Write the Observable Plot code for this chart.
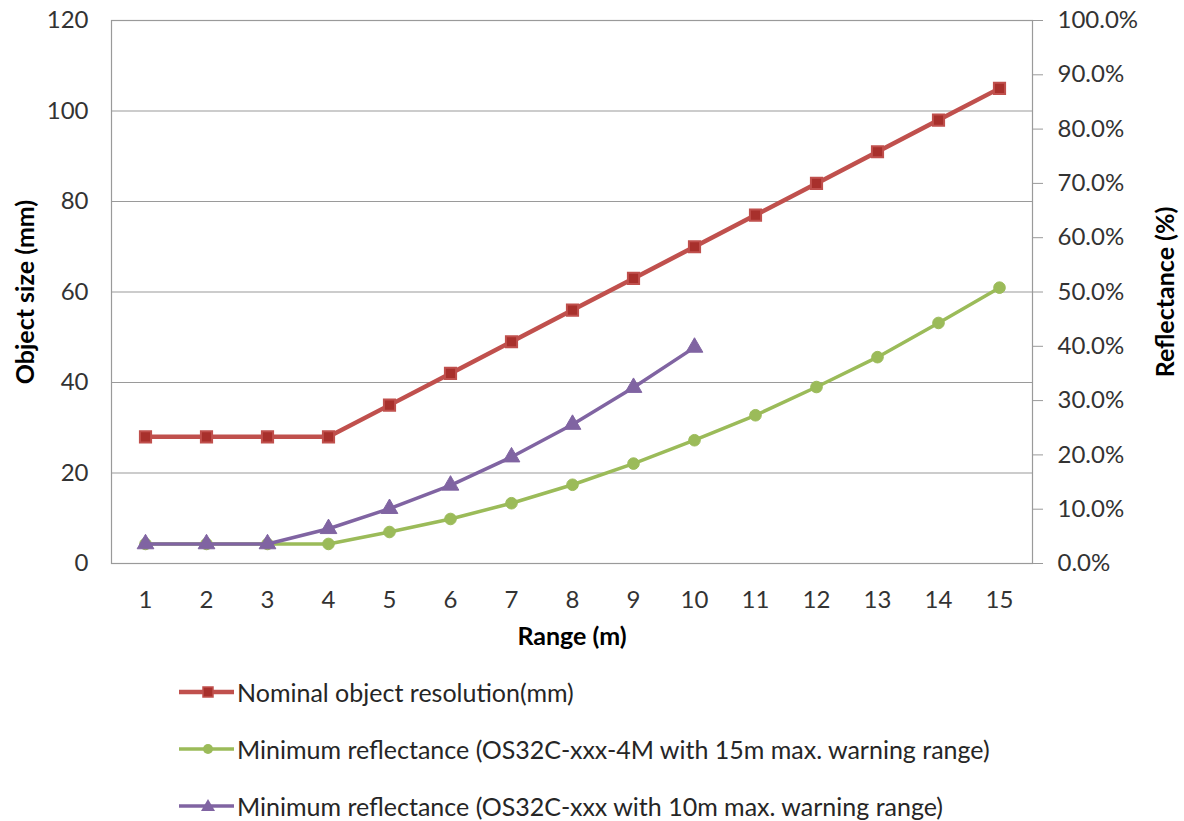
<!DOCTYPE html>
<html>
<head>
<meta charset="utf-8">
<script src="https://cdn.jsdelivr.net/npm/d3@7"></script>
<script src="https://cdn.jsdelivr.net/npm/@observablehq/plot@0.6"></script>
<style>
  html, body { margin: 0; padding: 0; background: #fff; }
  #chart { width: 1184px; height: 662px; }
  #chart svg { display: block; }
  .legend { font-family: Lato, "Open Sans", sans-serif; font-size: 25px; color: #262626; margin-left: 178px; margin-top: 15px; }
  .legend .item { display: flex; align-items: center; height: 30px; }
  .legend .item + .item { margin-top: 27px; }
  .legend svg { flex: none; }
</style>
</head>
<body>
<div id="chart"></div>
<script>
// ---- data ----
const ranges = [1, 2, 3, 4, 5, 6, 7, 8, 9, 10, 11, 12, 13, 14, 15];
const nominalMm = [28, 28, 28, 28, 35, 42, 49, 56, 63, 70, 77, 84, 91, 98, 105];
const reflect4M = [3.6, 3.6, 3.6, 3.6, 5.8, 8.2, 11.1, 14.5, 18.4, 22.7, 27.3, 32.5, 38.0, 44.3, 50.8];
const ranges10 = [1, 2, 3, 4, 5, 6, 7, 8, 9, 10];
const reflect10m = [3.6, 3.6, 3.6, 6.4, 10.1, 14.4, 19.6, 25.6, 32.4, 39.8];
const leftTicks = [0, 20, 40, 60, 80, 100, 120];
const rightTicks = [0, 10, 20, 30, 40, 50, 60, 70, 80, 90, 100];
const seriesNames = [
  "Nominal object resolution(mm)",
  "Minimum reflectance (OS32C-xxx-4M with 15m max. warning range)",
  "Minimum reflectance (OS32C-xxx with 10m max. warning range)"
];
const colors = { red: "#C0504D", redDark: "#A8302C", green: "#9BBB59", purple: "#8064A2" };

// right axis (0–100 %) shares the frame with the left axis (0–120 mm)
const pctToMm = p => p * 120 / 100;

const redData = ranges.map((r, i) => ({ r, v: nominalMm[i] }));
const greenData = ranges.map((r, i) => ({ r, v: pctToMm(reflect4M[i]) }));
const purpleData = ranges10.map((r, i) => ({ r, v: pctToMm(reflect10m[i]) }));

const chart = Plot.plot({
  width: 1184,
  height: 662,
  marginLeft: 111,
  marginRight: 152,
  marginTop: 20,
  marginBottom: 99,
  style: { fontFamily: "Lato, 'Open Sans', sans-serif", fontSize: "24px", color: "#333", background: "#fff" },
  x: { type: "point", domain: ranges, padding: 0.5 },
  y: { domain: [0, 120] },
  marks: [
    Plot.gridY(leftTicks, { stroke: "#9a9a9a", strokeOpacity: 1, strokeWidth: 1.2 }),
    Plot.frame({ stroke: "#9a9a9a", strokeWidth: 1.2 }),
    Plot.axisY(leftTicks, { anchor: "left", tickSize: 0, tickPadding: 23, label: null, fill: "#333" }),
    Plot.axisY(rightTicks.map(pctToMm), {
      anchor: "right", tickSize: 10, tickPadding: 15, label: null,
      stroke: "#9a9a9a", fill: "#333",
      tickFormat: v => (v * 100 / 120).toFixed(1) + "%"
    }),
    Plot.axisX(ranges, { anchor: "bottom", tickSize: 0, tickPadding: 27, label: null, fill: "#333" }),
    Plot.text(["Object size (mm)"], { frameAnchor: "left", dx: -86, rotate: -90, textAnchor: "middle", fontWeight: "bold", fill: "#000", fontSize: 25 }),
    Plot.text(["Reflectance (%)"], { frameAnchor: "right", dx: 133, rotate: -90, textAnchor: "middle", fontWeight: "bold", fill: "#000", fontSize: 25 }),
    Plot.text(["Range (m)"], { frameAnchor: "bottom", dy: 81, fontWeight: "bold", fill: "#000", fontSize: 25 }),

    Plot.line(redData, { x: "r", y: "v", stroke: colors.red, strokeWidth: 4.5 }),
    Plot.dot(redData, { x: "r", y: "v", symbol: "square", r: 6.3, fill: colors.redDark, stroke: colors.red, strokeWidth: 2 }),

    Plot.line(greenData, { x: "r", y: "v", stroke: colors.green, strokeWidth: 3.5 }),
    Plot.dot(greenData, { x: "r", y: "v", symbol: "circle", r: 5.8, fill: colors.green, stroke: colors.green, strokeWidth: 1 }),

    Plot.line(purpleData, { x: "r", y: "v", stroke: colors.purple, strokeWidth: 3.5 }),
    Plot.dot(purpleData, { x: "r", y: "v", symbol: "triangle", r: 6.2, fill: colors.purple, stroke: colors.purple, strokeWidth: 1 })
  ]
});
document.getElementById("chart").appendChild(chart);

// ---- legend (HTML below the SVG) ----
const legend = document.createElement("div");
legend.className = "legend";
const markerSvg = [
  `<rect x="25" y="10" width="10" height="10" fill="${colors.redDark}" stroke="${colors.red}" stroke-width="1.5"/>`,
  `<circle cx="30" cy="15" r="5" fill="${colors.green}"/>`,
  `<path d="M30,8 L37,20 L23,20 Z" fill="${colors.purple}"/>`
];
const lineColors = [colors.red, colors.green, colors.purple];
const lineWidths = [4.5, 3.5, 3.5];
seriesNames.forEach((name, i) => {
  const item = document.createElement("div");
  item.className = "item";
  item.innerHTML = `<svg width="59" height="30"><line x1="1" x2="56" y1="15" y2="15" stroke="${lineColors[i]}" stroke-width="${lineWidths[i]}"/>${markerSvg[i]}</svg><span>${name}</span>`;
  legend.appendChild(item);
});
document.body.appendChild(legend);
</script>
</body>
</html>
